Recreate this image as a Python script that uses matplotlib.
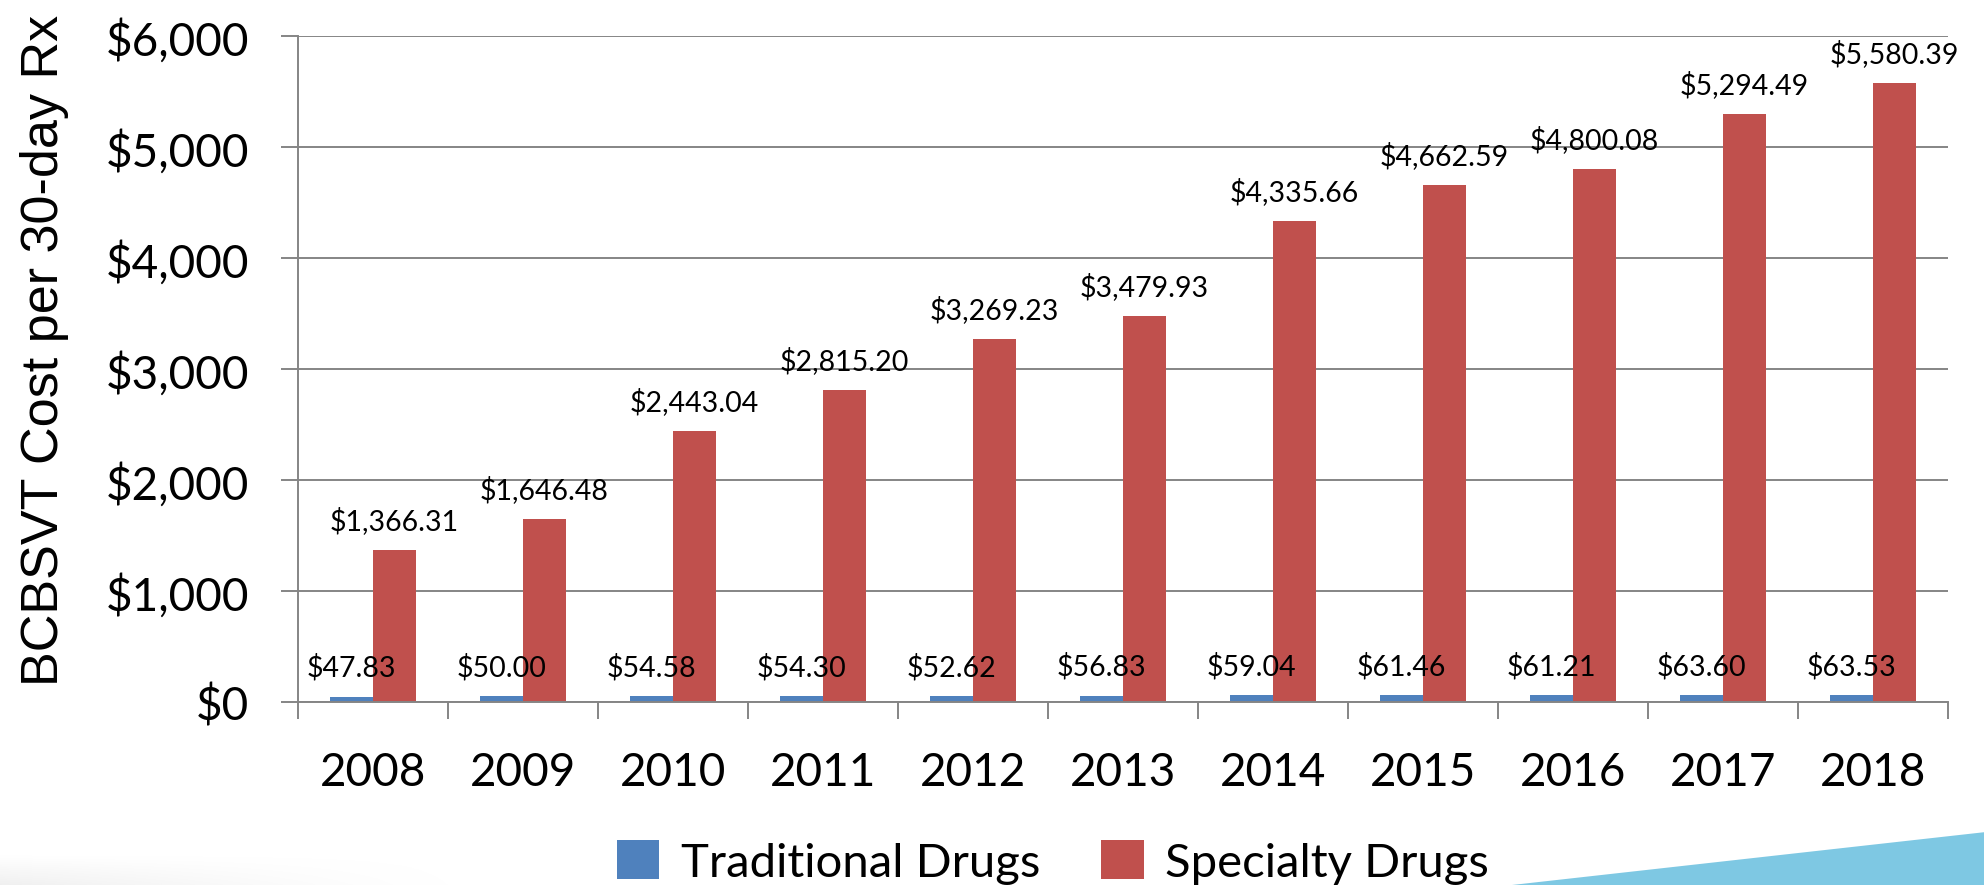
import matplotlib
matplotlib.use("Agg")
import matplotlib.pyplot as plt
import numpy as np
from matplotlib.patches import Polygon
from matplotlib.ticker import FuncFormatter, MultipleLocator

# data
years = ["2008", "2009", "2010", "2011", "2012", "2013", "2014", "2015", "2016", "2017", "2018"]
traditional = [47.83, 50.00, 54.58, 54.30, 52.62, 56.83, 59.04, 61.46, 61.21, 63.60, 63.53]
specialty = [1366.31, 1646.48, 2443.04, 2815.20, 3269.23, 3479.93, 4335.66, 4662.59, 4800.08, 5294.49, 5580.39]

blue = "#4F81BD"
red = "#C0504D"
grid_grey = "#858585"

plt.rcParams["font.family"] = ["Lato", "DejaVu Sans"]

fig = plt.figure(figsize=(19.84, 8.859), dpi=100)
ax = fig.add_axes([298 / 1984, 1 - 703 / 886, 1650 / 1984, 666 / 886])

x = np.arange(len(years))
w = 0.287
bars_t = ax.bar(x - w / 2, traditional, width=w, color=blue, label="Traditional Drugs")
bars_s = ax.bar(x + w / 2, specialty, width=w, color=red, label="Specialty Drugs")

# value labels above each bar
for bars, vals in [(bars_t, traditional), (bars_s, specialty)]:
    for b, v in zip(bars, vals):
        ax.annotate(f"${v:,.2f}", (b.get_x() + b.get_width() / 2, v),
                    xytext=(0, 15), textcoords="offset points",
                    ha="center", va="baseline", fontsize=20.5, color="black")

ax.set_xlim(-0.5, len(years) - 0.5)
ax.set_ylim(0, 6000)
ax.yaxis.set_major_locator(MultipleLocator(1000))
ax.yaxis.set_major_formatter(FuncFormatter(lambda v, p: f"${v:,.0f}"))
ax.grid(axis="y", color=grid_grey, linewidth=1.4)
ax.set_axisbelow(True)

ax.set_xticks(x)
ax.set_xticklabels(years)
ax.set_xticks(np.arange(len(years) + 1) - 0.5, minor=True)
ax.tick_params(axis="x", which="major", length=0, pad=35, labelsize=33)
ax.tick_params(axis="x", which="minor", length=12, width=1.4, color=grid_grey, direction="out")
ax.tick_params(axis="y", length=12, width=1.4, color=grid_grey, pad=23, labelsize=33)

for s in ["top", "right"]:
    ax.spines[s].set_visible(False)
for s in ["left", "bottom"]:
    ax.spines[s].set_color(grid_grey)
    ax.spines[s].set_linewidth(1.4)

fig.text(45 / 1984, 1 - 350 / 886, "BCBSVT Cost per 30-day Rx", rotation=90,
         ha="center", va="center", fontsize=37.5, family=["Liberation Sans", "DejaVu Sans"])

fig.legend(handles=[bars_t, bars_s], loc="center", bbox_to_anchor=(1053 / 1984, 23 / 886),
           ncol=2, frameon=False, fontsize=34, handlelength=0.9, handleheight=0.9,
           handletextpad=0.45, columnspacing=1.3)

# light blue swoosh in the lower right corner
fig.patches.append(Polygon([(1512 / 1984, 0), (1 + 0.001, 53 / 886), (1 + 0.001, 0)],
                           closed=True, transform=fig.transFigure, facecolor="#7EC8E3",
                           edgecolor="none", zorder=0))

# faint grey shadow along the bottom left
shade = fig.add_axes([0, 0, 0.25, 30 / 886], zorder=-1)
grad = np.outer(np.linspace(0, 1, 30), np.ones(200)) * np.linspace(1, 0, 200) ** 1.5
shade.imshow(grad, aspect="auto", cmap="Greys", vmin=0, vmax=8, origin="upper")
shade.axis("off")

fig.savefig("out.png", dpi=100)
